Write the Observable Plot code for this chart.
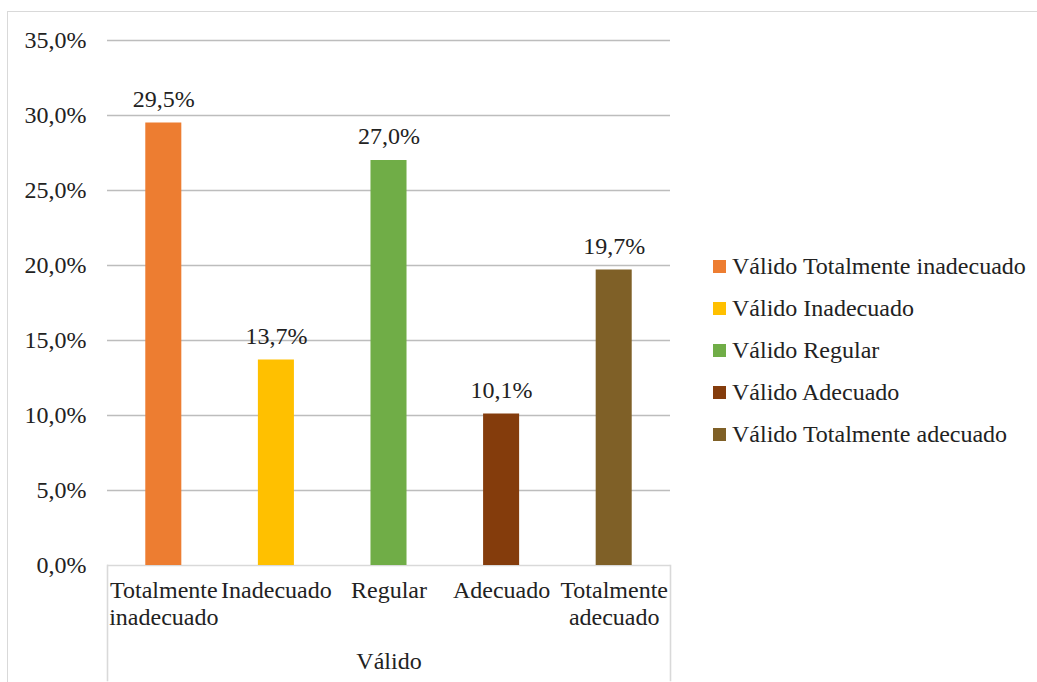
<!DOCTYPE html>
<html><head><meta charset="utf-8">
<script src="https://cdn.jsdelivr.net/npm/d3@7"></script>
<script src="https://cdn.jsdelivr.net/npm/@observablehq/plot@0.6"></script>
<style>
body{margin:0;background:#fff;font-family:"Liberation Serif","Times New Roman",serif;}
#wrap{position:relative;width:1037px;height:682px;overflow:hidden;}
#border{position:absolute;left:7px;top:11px;width:1100px;height:800px;border:1.5px solid #d9d9d9;box-sizing:border-box;}
#chart{position:absolute;left:0;top:0;}
#chart svg, #chart svg text{font-family:"Liberation Serif","Times New Roman",serif !important;}
#legend{position:absolute;left:713px;top:245px;}
.item{display:flex;align-items:center;height:42.2px;font-size:24px;color:#222;white-space:nowrap;}
.sw{width:13px;height:13px;margin-right:6px;flex:none;}
</style></head>
<body><div id="wrap"><div id="border"></div><div id="chart"></div><div id="legend"></div></div>
<script>
const categories = ["Totalmente inadecuado", "Inadecuado", "Regular", "Adecuado", "Totalmente adecuado"];
const tickLabels = ["Totalmente\ninadecuado", "Inadecuado", "Regular", "Adecuado", "Totalmente\nadecuado"];
const values = [29.5, 13.7, 27.0, 10.1, 19.7];
const colors = ["#ED7D31", "#FFC000", "#70AD47", "#843C0C", "#7F6027"];
const groupLabel = "Válido";
const yTicks = [0, 5, 10, 15, 20, 25, 30, 35];

const fmt = d => d.toFixed(1).replace(".", ",") + "%";
const data = categories.map((c, i) => ({cat: c, value: values[i]}));
const font = '"Liberation Serif","Times New Roman",serif';
const ink = "#222";

const plot = Plot.plot({
  width: 1037, height: 682,
  marginLeft: 107, marginRight: 367, marginTop: 40, marginBottom: 117,
  style: {fontFamily: font, fontSize: "24px", color: ink, background: "transparent"},
  x: {domain: categories, paddingInner: 0.68, paddingOuter: 0.34, round: false},
  y: {domain: [0, 35]},
  color: {domain: categories, range: colors},
  marks: [
    Plot.ruleY(yTicks.filter(d => d > 0), {stroke: "#bdbdbd", strokeWidth: 1.6}),
    Plot.ruleY([0], {stroke: "#d9d9d9", strokeWidth: 1.6}),
    Plot.barY(data, {x: "cat", y: "value", fill: "cat"}),
    Plot.text(data, {x: "cat", y: "value", text: d => fmt(d.value), dy: -24, fill: ink, fontSize: 24, fontFamily: font}),
    Plot.axisY({ticks: yTicks, tickSize: 0, tickPadding: 21, tickFormat: d => fmt(d), fontSize: 24, fontFamily: font, label: null, fill: ink}),
    Plot.axisX({tickSize: 0, tickPadding: 13, tickFormat: d => tickLabels[categories.indexOf(d)], fontSize: 24, fontFamily: font, lineHeight: 1.14, label: null, fill: ink}),
    Plot.text([groupLabel], {frameAnchor: "bottom", text: d => d, dy: 96, lineAnchor: "middle", fontSize: 24, fontFamily: font, fill: ink}),
    Plot.frame({anchor: "left", stroke: "#d9d9d9", strokeWidth: 1.6, insetTop: 525, insetBottom: -115}),
    Plot.frame({anchor: "right", stroke: "#d9d9d9", strokeWidth: 1.6, insetTop: 525, insetBottom: -115})
  ]
});
document.getElementById("chart").appendChild(plot);

const color = plot.scale("color");
const legend = document.getElementById("legend");
categories.forEach((c, i) => {
  const item = document.createElement("div");
  item.className = "item";
  const sw = document.createElement("span");
  sw.className = "sw";
  sw.style.background = color.range[color.domain.indexOf(c)];
  const t = document.createElement("span");
  t.textContent = groupLabel + " " + c;
  item.appendChild(sw); item.appendChild(t);
  legend.appendChild(item);
});
</script>
</body></html>
